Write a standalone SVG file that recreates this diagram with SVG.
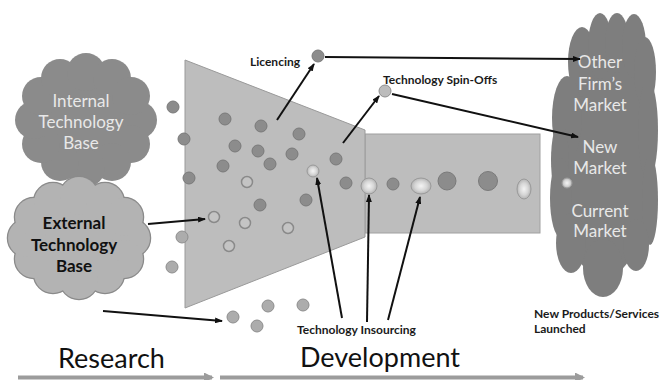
<svg xmlns="http://www.w3.org/2000/svg" xmlns:xlink="http://www.w3.org/1999/xlink" width="660" height="380" viewBox="0 0 660 380">
  <style>
    .lbl { font-family: Lato, "Open Sans", "Liberation Sans", sans-serif; }
    .cloud-txt { font-size: 17px; text-anchor: middle; }
    .light { fill: #e8e8e8; }
    .dark-txt { fill: #111; font-weight: bold; }
    .small { font-size: 12px; font-weight: bold; fill: #1a1a1a; }
    .phase { font-size: 27px; fill: #111; }
    .d { fill: #8c8c8c; stroke: #7a7a7a; stroke-width: 1; }
    .l { fill: #acacac; stroke: #8e8e8e; stroke-width: 1; }
    .o { fill: #c4c4c4; stroke: #8a8a8a; stroke-width: 1.5; }
    .g { fill: url(#gloss); stroke: #9a9a9a; stroke-width: 1; }
    .conn { stroke: #111; stroke-width: 2; fill: none; marker-end: url(#arr); }
    .phase-arrow { stroke: #9c9c9c; stroke-width: 4; fill: none; marker-end: url(#garr); }
    .ext-edge { fill: #b3b3b3; stroke: #8a8a8a; stroke-width: 2.5; }
    .ext-fill { fill: #b3b3b3; stroke: none; }
  </style>
  <defs>
    <radialGradient id="gloss" cx="0.5" cy="0.5" r="0.5">
      <stop offset="0" stop-color="#f4f4f4"/>
      <stop offset="0.6" stop-color="#d6d6d6"/>
      <stop offset="1" stop-color="#b4b4b4"/>
    </radialGradient>
    <marker id="arr" viewBox="0 0 8 6" refX="7" refY="3" markerWidth="8" markerHeight="6" markerUnits="userSpaceOnUse" orient="auto">
      <path d="M0,0 L8,3 L0,6 z" fill="#111"/>
    </marker>
    <marker id="garr" viewBox="0 0 10 10" refX="8" refY="5" markerWidth="10" markerHeight="10" markerUnits="userSpaceOnUse" orient="auto">
      <path d="M0,0 L10,5 L0,10 z" fill="#9c9c9c"/>
    </marker>
    <!-- puff circles of the external base cloud, drawn twice to get a single outline -->
    <g id="extBlobs">
      <ellipse cx="79" cy="238" rx="56" ry="46"/>
      <circle cx="131" cy="238" r="19"/>
      <circle cx="124" cy="259" r="19"/>
      <circle cx="105" cy="274" r="19"/>
      <circle cx="79" cy="280" r="19"/>
      <circle cx="53" cy="274" r="19"/>
      <circle cx="34" cy="259" r="19"/>
      <circle cx="27" cy="238" r="19"/>
      <circle cx="34" cy="217" r="19"/>
      <circle cx="53" cy="202" r="19"/>
      <circle cx="79" cy="196" r="19"/>
      <circle cx="105" cy="202" r="19"/>
      <circle cx="124" cy="217" r="19"/>
    </g>
  </defs>

  <rect width="660" height="380" fill="#fff"/>

  <!-- Internal technology base -->
  <g id="internal-base">
    <g fill="#8b8b8b">
      <ellipse cx="86" cy="120" rx="58" ry="52"/>
      <circle cx="138" cy="120" r="19"/>
      <circle cx="131" cy="144" r="19"/>
      <circle cx="112" cy="162" r="19"/>
      <circle cx="86" cy="168" r="19"/>
      <circle cx="60" cy="162" r="19"/>
      <circle cx="41" cy="144" r="19"/>
      <circle cx="34" cy="120" r="19"/>
      <circle cx="41" cy="96" r="19"/>
      <circle cx="60" cy="78" r="19"/>
      <circle cx="86" cy="72" r="19"/>
      <circle cx="112" cy="78" r="19"/>
      <circle cx="131" cy="96" r="19"/>
    </g>
    <text class="lbl cloud-txt light" x="81" y="107">Internal</text>
    <text class="lbl cloud-txt light" x="81" y="128">Technology</text>
    <text class="lbl cloud-txt light" x="81" y="149">Base</text>
  </g>

  <!-- External technology base -->
  <g id="external-base">
    <use xlink:href="#extBlobs" class="ext-edge"/>
    <use xlink:href="#extBlobs" class="ext-fill"/>
    <text class="lbl cloud-txt dark-txt" x="74" y="229">External</text>
    <text class="lbl cloud-txt dark-txt" x="74" y="251">Technology</text>
    <text class="lbl cloud-txt dark-txt" x="74" y="272">Base</text>
  </g>

  <!-- Development funnel and pipeline -->
  <g id="funnel">
    <rect x="365" y="134" width="175" height="99" fill="#bdbdbd" stroke="#a0a0a0" stroke-width="1"/>
    <polygon points="185,60 365,130 365,237 185,308" fill="#bdbdbd" stroke="#9a9a9a" stroke-width="1"/>
  </g>

  <!-- Market cloud -->
  <g id="markets">
    <g fill="#7e7e7e">
      <ellipse cx="604" cy="160" rx="48" ry="118"/>
      <ellipse cx="582" cy="62" rx="14" ry="35"/>
      <ellipse cx="600" cy="46" rx="12" ry="33"/>
      <ellipse cx="617" cy="43" rx="12" ry="30"/>
      <ellipse cx="634" cy="46" rx="12" ry="32"/>
      <ellipse cx="645" cy="72" rx="11" ry="35"/>
      <ellipse cx="567" cy="118" rx="15" ry="42"/>
      <ellipse cx="560" cy="160" rx="9" ry="38"/>
      <ellipse cx="561" cy="198" rx="11" ry="40"/>
      <ellipse cx="571" cy="243" rx="15" ry="30"/>
      <ellipse cx="648" cy="130" rx="10" ry="50"/>
      <ellipse cx="650" cy="200" rx="8" ry="45"/>
      <ellipse cx="636" cy="245" rx="13" ry="26"/>
      <ellipse cx="603" cy="268" rx="20" ry="29"/>
    </g>
    <circle class="g" cx="567" cy="183" r="5"/>
    <text class="lbl cloud-txt light" x="600" y="68">Other</text>
    <text class="lbl cloud-txt light" x="600" y="90">Firm’s</text>
    <text class="lbl cloud-txt light" x="600" y="111">Market</text>
    <text class="lbl cloud-txt light" x="600" y="153">New</text>
    <text class="lbl cloud-txt light" x="600" y="174">Market</text>
    <text class="lbl cloud-txt light" x="600" y="217">Current</text>
    <text class="lbl cloud-txt light" x="600" y="237">Market</text>
  </g>

  <!-- Technology particles -->
  <g id="particles">
    <circle class="d" cx="173" cy="107" r="6"/>
    <circle class="d" cx="184" cy="139" r="6"/>
    <circle class="d" cx="189" cy="178" r="6"/>
    <circle class="d" cx="225" cy="119" r="6"/>
    <circle class="d" cx="261" cy="126" r="6"/>
    <circle class="d" cx="299" cy="134" r="6"/>
    <circle class="d" cx="235" cy="146" r="6"/>
    <circle class="d" cx="258" cy="151" r="6"/>
    <circle class="d" cx="292" cy="154" r="6"/>
    <circle class="d" cx="223" cy="166" r="6"/>
    <circle class="d" cx="270" cy="164" r="6"/>
    <circle class="d" cx="336" cy="159" r="6"/>
    <circle class="d" cx="346" cy="183" r="6"/>
    <circle class="d" cx="306" cy="200" r="6"/>
    <circle class="d" cx="260" cy="205" r="6"/>
    <circle class="o" cx="247" cy="182" r="5.5"/>
    <circle class="o" cx="214" cy="217" r="5.5"/>
    <circle class="o" cx="245" cy="223" r="5.5"/>
    <circle class="o" cx="288" cy="228" r="5.5"/>
    <circle class="o" cx="229" cy="246" r="5.5"/>
    <circle class="l" cx="182" cy="237" r="6"/>
    <circle class="l" cx="172" cy="267" r="6"/>
    <circle class="l" cx="233" cy="317" r="6"/>
    <circle class="l" cx="257" cy="326" r="6"/>
    <circle class="l" cx="268" cy="306" r="6"/>
    <circle class="l" cx="303" cy="305" r="6"/>
    <circle class="g" cx="313" cy="171" r="6"/>
    <circle class="g" cx="369" cy="186" r="8"/>
    <circle class="d" cx="393" cy="184" r="6"/>
    <ellipse class="g" cx="421" cy="186" rx="10" ry="8"/>
    <circle class="d" cx="447" cy="181" r="9"/>
    <circle class="d" cx="488" cy="181" r="9.5"/>
    <ellipse class="g" cx="524" cy="189" rx="7" ry="10"/>
    <circle class="d" cx="318" cy="56" r="6"/>
    <circle class="l" cx="385" cy="91" r="6" style="fill:#bcbcbc"/>
  </g>

  <!-- Connectors -->
  <g id="connectors">
    <path class="conn" d="M277,120 L314,64"/>
    <path class="conn" d="M325,57 L580,59"/>
    <path class="conn" d="M343,143 L379,96"/>
    <path class="conn" d="M392,94 L578,137"/>
    <path class="conn" d="M148,224 L205,219"/>
    <path class="conn" d="M103,311 L222,321"/>
    <path class="conn" d="M342,318 L317,178"/>
    <path class="conn" d="M367,322 L369,195"/>
    <path class="conn" d="M388,320 L420,197"/>
  </g>

  <!-- Labels -->
  <g id="labels">
    <text class="lbl small" x="250" y="66">Licencing</text>
    <text class="lbl small" x="383" y="84">Technology Spin-Offs</text>
    <text class="lbl small" x="297" y="334">Technology Insourcing</text>
    <text class="lbl small" x="534" y="318">New Products/Services</text>
    <text class="lbl small" x="534" y="333">Launched</text>
  </g>

  <!-- Phase axis -->
  <g id="phases">
    <path class="phase-arrow" d="M18,377.5 L212,377.5"/>
    <path class="phase-arrow" d="M220,377.5 L583,377.5"/>
    <text class="lbl phase" x="58" y="368">Research</text>
    <text class="lbl phase" x="300" y="367">Development</text>
  </g>
</svg>
